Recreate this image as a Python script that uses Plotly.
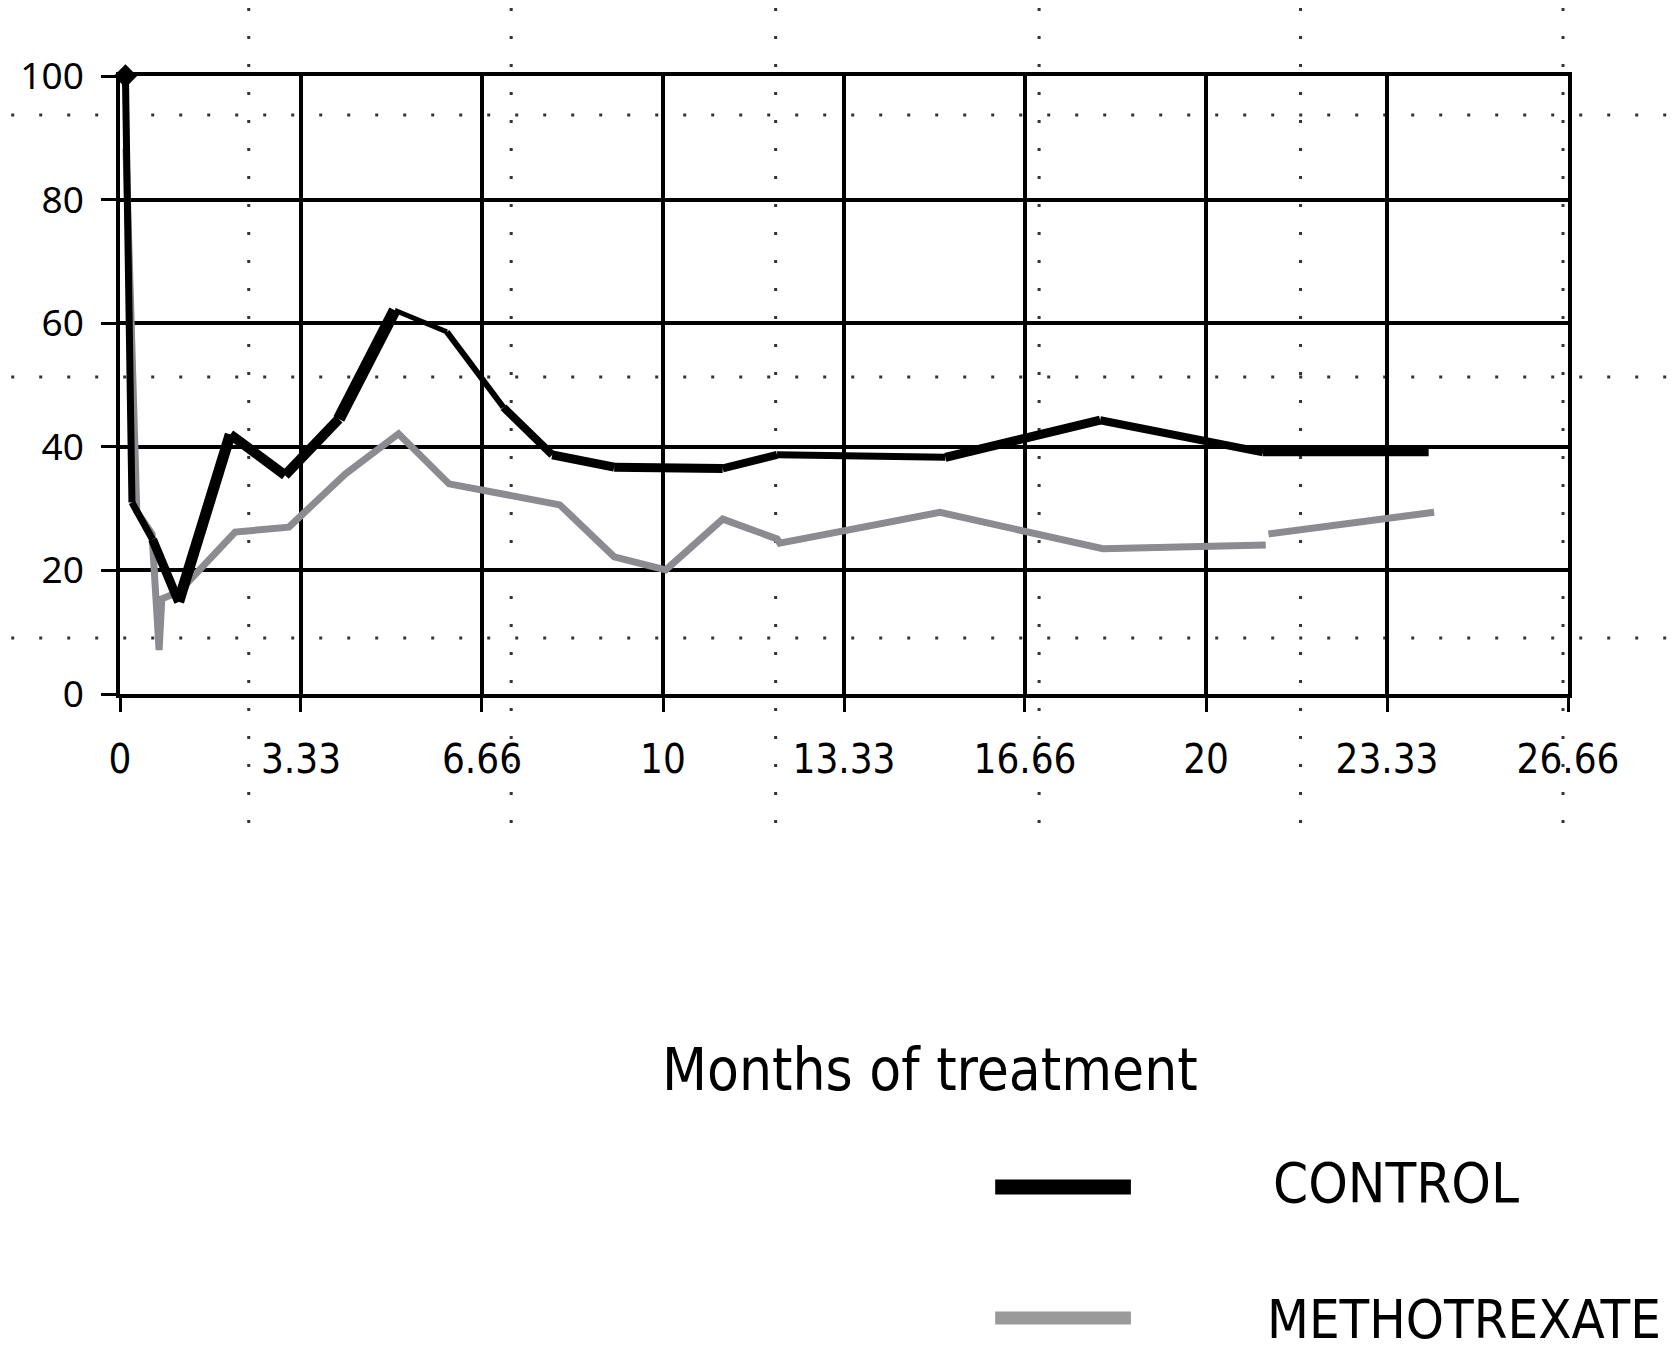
import plotly.graph_objects as go

# ---------------- data ----------------
control_x = [0.1, 0.22, 0.6, 1.08, 2.03, 3.04, 4.03, 5.06, 6.02, 7.06, 7.96, 9.1, 11.1, 12.1, 15.2, 18.05, 21.05, 24.1]
control_y = [100, 31, 25, 14.9, 42, 35.4, 44.5, 62.1, 58.6, 46.4, 38.7, 36.7, 36.5, 38.7, 38.3, 44.3, 39.1, 39.1]

mtx_x = [0.11, 0.31, 0.59, 0.72, 0.77, 1.08, 2.12, 3.11, 4.15, 5.13, 6.06, 7.03, 8.1, 9.1, 10.05, 11.1, 12.1, 12.15, 15.1, 18.1, 21.1, None, 21.15, 24.2]
mtx_y = [88.2, 29.5, 25.9, 7.1, 15.4, 16.5, 26.2, 27.0, 35.6, 42.1, 34.0, 32.4, 30.6, 22.2, 20.1, 28.3, 25.1, 24.4, 29.4, 23.5, 24.1, None, 25.9, 29.4]

x_tickvals = [0, 3.333, 6.666, 10, 13.333, 16.666, 20, 23.333, 26.666]
x_ticktext = ["0", "3.33", "6.66", "10", "13.33", "16.66", "20", "23.33", "26.66"]
y_tickvals = [0, 20, 40, 60, 80, 100]
y_ticktext = ["0", "20", "40", "60", "80", "100"]

series_names = ["CONTROL", "METHOTREXATE"]
x_title = "Months of treatment"

# ---------------- style ----------------
W, H = 1675, 1351
L, R, T, B = 109, 1560, 68, 686           # plot area in pixels
control_seg_width = [7, 7, 9, 11, 10, 10, 12, 5, 6, 8, 9, 9, 8, 7, 9, 8, 8]
CONTROL_COLOR = "#000000"
MTX_COLOR = "#8b8b90"
TICK_FONT = "DejaVu Sans Condensed"
Y_FONT = "Noto Sans"


def px_to_paper_x(px):
    return (px - L) / (R - L)


def px_to_paper_y(py):
    return (B - py) / (B - T)


fig = go.Figure()

# methotrexate (grey) drawn first
fig.add_trace(go.Scatter(
    x=mtx_x, y=mtx_y, mode="lines", name=series_names[1],
    line=dict(color=MTX_COLOR, width=7), connectgaps=False, showlegend=False,
))

# control, segment by segment (line thickness varies in the original)
for i in range(len(control_x) - 1):
    fig.add_trace(go.Scatter(
        x=control_x[i:i + 2], y=control_y[i:i + 2], mode="lines",
        name=series_names[0], line=dict(color=CONTROL_COLOR, width=control_seg_width[i]),
        showlegend=False, hoverinfo="x+y",
    ))

# starting diamond marker
fig.add_trace(go.Scatter(
    x=control_x[:1], y=control_y[:1], mode="markers", name=series_names[0],
    marker=dict(symbol="diamond", size=18, color=CONTROL_COLOR), showlegend=False,
    cliponaxis=False,
))

# ---------------- decorative dotted overlay grid ----------------
shapes = []
dot_dash = "3px,25px"
for py in [107, 369, 630]:
    shapes.append(dict(type="line", xref="paper", yref="paper",
                       x0=px_to_paper_x(0), x1=px_to_paper_x(W), y0=px_to_paper_y(py), y1=px_to_paper_y(py),
                       line=dict(color="#333333", width=3, dash=dot_dash), layer="below"))
for px in [238, 501, 766, 1030, 1292, 1555]:
    shapes.append(dict(type="line", xref="paper", yref="paper",
                       x0=px_to_paper_x(px), x1=px_to_paper_x(px), y0=px_to_paper_y(0), y1=px_to_paper_y(822),
                       line=dict(color="#333333", width=3, dash=dot_dash), layer="below"))

# legend swatches
shapes.append(dict(type="line", xref="paper", yref="paper",
                   x0=px_to_paper_x(986), x1=px_to_paper_x(1122), y0=px_to_paper_y(1179), y1=px_to_paper_y(1179),
                   line=dict(color=CONTROL_COLOR, width=15)))
shapes.append(dict(type="line", xref="paper", yref="paper",
                   x0=px_to_paper_x(986), x1=px_to_paper_x(1122), y0=px_to_paper_y(1310), y1=px_to_paper_y(1310),
                   line=dict(color="#9a9a9a", width=13)))

annotations = [
    dict(text=x_title, xref="paper", yref="paper", x=px_to_paper_x(921), y=px_to_paper_y(1062),
         xanchor="center", yanchor="middle", showarrow=False,
         font=dict(family=TICK_FONT, size=58, color="black")),
    dict(text=series_names[0], xref="paper", yref="paper", x=px_to_paper_x(1262), y=px_to_paper_y(1174),
         xanchor="left", yanchor="middle", showarrow=False,
         font=dict(family=TICK_FONT, size=56, color="black")),
    dict(text=series_names[1], xref="paper", yref="paper", x=px_to_paper_x(1256), y=px_to_paper_y(1311),
         xanchor="left", yanchor="middle", showarrow=False,
         font=dict(family=TICK_FONT, size=54, color="black")),
]

fig.update_layout(
    width=W, height=H,
    margin=dict(l=L, r=W - R, t=T, b=H - B, pad=0),
    paper_bgcolor="white", plot_bgcolor="white",
    shapes=shapes, annotations=annotations,
    showlegend=False,
    xaxis=dict(range=[0, 26.666], tickvals=x_tickvals, ticktext=x_ticktext,
               showgrid=True, gridcolor="black", gridwidth=3.5, zeroline=False,
               showline=True, linecolor="black", linewidth=3.5, mirror=True,
               ticks="outside", ticklen=14, tickwidth=3, tickcolor="black",
               ticklabelstandoff=13,
               tickfont=dict(family=TICK_FONT, size=40, color="black")),
    yaxis=dict(range=[0, 100], tickvals=y_tickvals, ticktext=y_ticktext,
               showgrid=True, gridcolor="black", gridwidth=3.5, zeroline=False,
               showline=True, linecolor="black", linewidth=3.5, mirror=True,
               ticks="outside", ticklen=15, tickwidth=3, tickcolor="black",
               ticklabelstandoff=10,
               tickfont=dict(family=Y_FONT, size=37, color="black")),
)

fig.write_html("out.html")
